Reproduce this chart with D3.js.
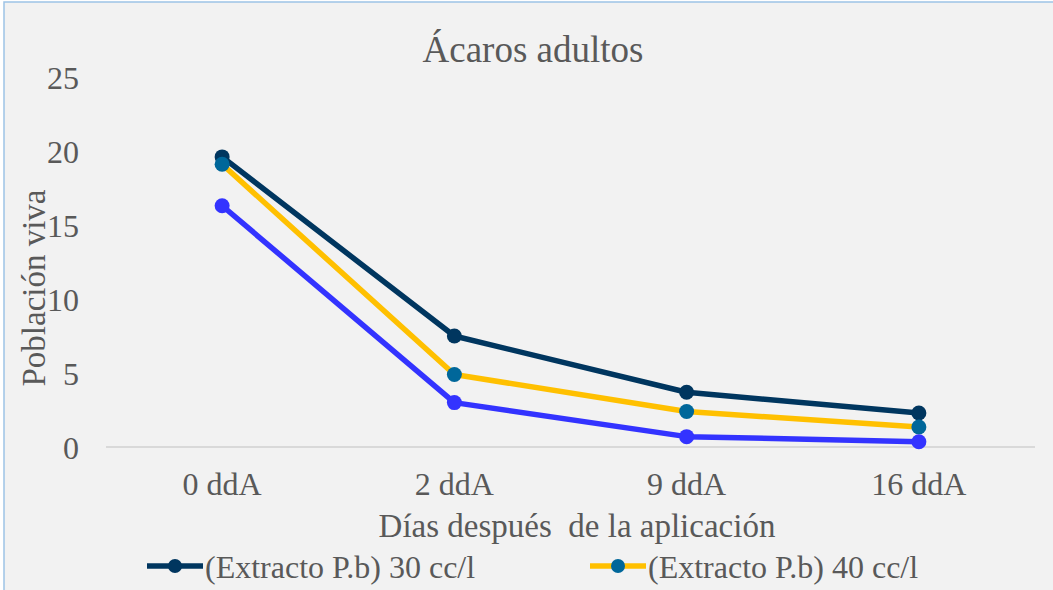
<!DOCTYPE html>
<html>
<head>
<meta charset="utf-8">
<script src="https://cdn.jsdelivr.net/npm/d3@7"></script>
<style>
  body { margin: 0; background: #ffffff; }
  text { font-family: "Liberation Serif", "Times New Roman", serif; fill: #595959; }
</style>
</head>
<body>
<div id="vis"></div>
<script>
//Chart data
var categories = ["0 ddA", "2 ddA", "9 ddA", "16 ddA"];
var seriesNames = ["(Extracto P.b) 30 cc/l", "(Extracto P.b) 40 cc/l", "(Extracto P.b) 50 cc/l"];
var values30 = [19.6, 7.5, 3.7, 2.3];
var values40 = [19.1, 4.9, 2.4, 1.35];
var values50 = [16.3, 3.0, 0.7, 0.35];
var yTicks = [0, 5, 10, 15, 20, 25];

var lineColors = ["#00365f", "#ffc000", "#3333ff"];
var markerColors = ["#00365f", "#00679a", "#3333ff"];

var width = 1053, height = 590;
var margin = {top: 77, right: 18, bottom: 143, left: 106};

var svg = d3.select("#vis").append("svg")
    .attr("width", width)
    .attr("height", height);

//Chart area background and border
svg.append("rect")
    .attr("x", 4).attr("y", 2)
    .attr("width", width + 10).attr("height", height + 10)
    .attr("fill", "#f2f2f2")
    .attr("stroke", "#9dc3e6")
    .attr("stroke-width", 1.5);

var x = d3.scaleBand()
    .domain(categories)
    .range([margin.left, width - margin.right]);

var y = d3.scaleLinear()
    .domain([0, 25])
    .range([height - margin.bottom, margin.top]);

//Baseline
svg.append("line")
    .attr("x1", x.range()[0]).attr("x2", x.range()[1])
    .attr("y1", y(0)).attr("y2", y(0))
    .attr("stroke", "#d9d9d9")
    .attr("stroke-width", 2);

//Y axis tick labels
var yAxis = d3.axisLeft(y).tickValues(yTicks).tickSize(0).tickPadding(0);
var yg = svg.append("g")
    .attr("transform", "translate(" + 79 + ",0)")
    .call(yAxis);
yg.select(".domain").remove();
yg.selectAll("text")
    .attr("font-size", 32)
    .attr("dy", "0.35em")
    .attr("font-family", "Liberation Serif")
    .attr("fill", "#595959");

//X axis tick labels
var xAxis = d3.axisBottom(x).tickSize(0).tickPadding(0);
var xg = svg.append("g")
    .attr("transform", "translate(0," + y(0) + ")")
    .call(xAxis);
xg.select(".domain").remove();
xg.selectAll("text")
    .attr("font-size", 32)
    .attr("dy", 0)
    .attr("y", 48)
    .attr("font-family", "Liberation Serif")
    .attr("fill", "#595959");

//Title
svg.append("text")
    .attr("x", 533).attr("y", 62)
    .attr("text-anchor", "middle")
    .attr("font-size", 37)
    .text("Ácaros adultos");

//Axis titles
svg.append("text")
    .attr("x", 577).attr("y", 537)
    .attr("text-anchor", "middle")
    .attr("font-size", 33)
    .style("white-space", "pre")
    .text("Días después  de la aplicación");

svg.append("text")
    .attr("transform", "translate(45," + 288 + ") rotate(-90)")
    .attr("text-anchor", "middle")
    .attr("font-size", 33)
    .text("Población viva");

//Lines and markers
var allSeries = [values30, values40, values50];
var line = d3.line()
    .x(function(d, i) { return x(categories[i]) + x.bandwidth() / 2; })
    .y(function(d) { return y(d); });

allSeries.forEach(function(vals, s) {
    svg.append("path")
        .datum(vals)
        .attr("fill", "none")
        .attr("stroke", lineColors[s])
        .attr("stroke-width", 5.5)
        .attr("stroke-linejoin", "round")
        .attr("d", line);
});
//markers drawn after all lines, in series order
allSeries.forEach(function(vals, s) {
    svg.selectAll(".m" + s)
        .data(vals)
        .enter().append("circle")
        .attr("cx", function(d, i) { return x(categories[i]) + x.bandwidth() / 2; })
        .attr("cy", function(d) { return y(d); })
        .attr("r", 7.5)
        .attr("fill", markerColors[s]);
});

//Legend: only the first two entries fit inside the visible area
var legendPos = [[147, 566], [590, 566]];
legendPos.forEach(function(pos, s) {
    var g = svg.append("g").attr("transform", "translate(" + pos[0] + "," + pos[1] + ")");
    g.append("line")
        .attr("x1", 0).attr("x2", 56)
        .attr("stroke", lineColors[s])
        .attr("stroke-width", 5.5);
    g.append("circle")
        .attr("cx", 28).attr("r", 7)
        .attr("fill", markerColors[s]);
    g.append("text")
        .attr("x", 58).attr("y", 12)
        .attr("font-size", 32)
        .text(seriesNames[s]);
});
</script>
</body>
</html>
